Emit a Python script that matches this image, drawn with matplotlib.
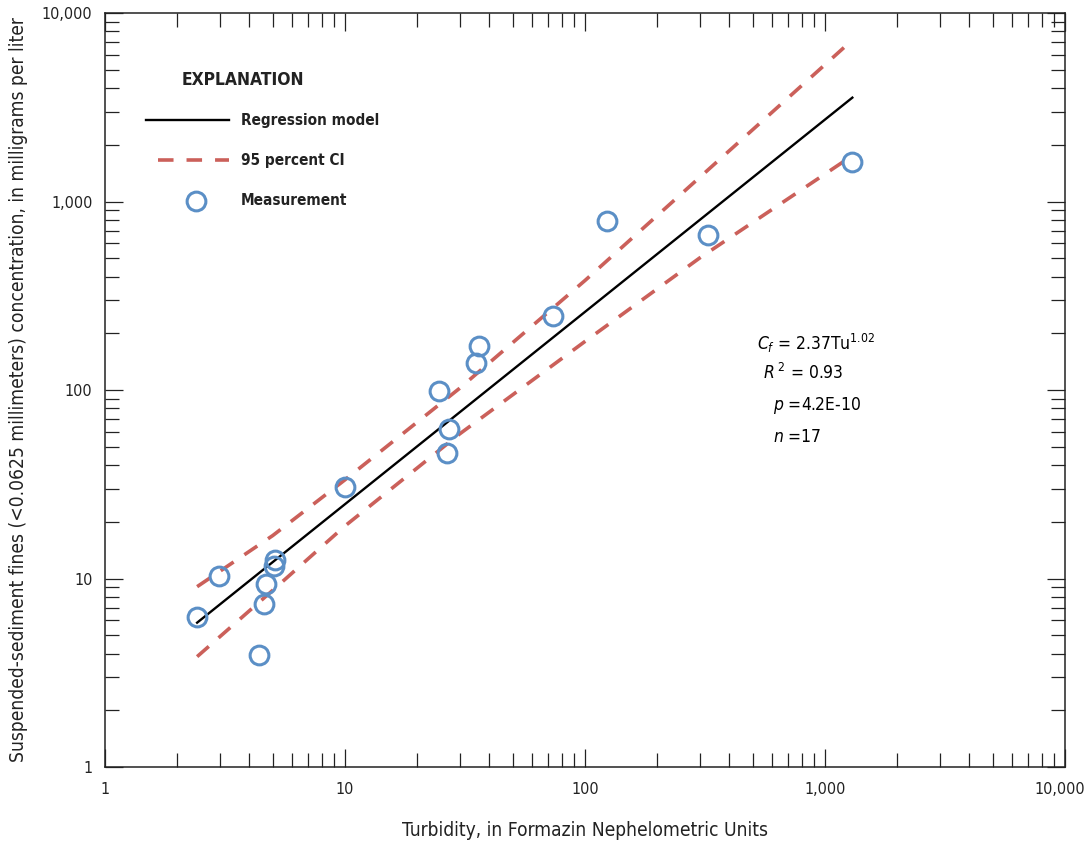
import matplotlib
matplotlib.use("Agg")
import matplotlib.pyplot as plt
import matplotlib.transforms as mtransforms
from matplotlib.lines import Line2D
from matplotlib.ticker import FixedLocator, FixedFormatter, LogLocator, NullFormatter

plt.rcParams["font.family"] = ["DejaVu Sans"]
plt.rcParams["font.stretch"] = "condensed"

turbidity = [2.42, 2.99, 4.38, 4.6, 4.69, 5.06, 5.1, 10.0, 24.6, 27.1, 26.6,
             35.1, 36.2, 73.5, 123, 325, 1296]
fines = [6.25, 10.3, 3.93, 7.3, 9.35, 11.6, 12.5, 30.6, 98.8, 62.0, 46.3,
         139, 171, 247, 789, 664, 1620]

# regression line end points
reg_x = [2.42, 1300]
reg_y = [5.83, 3556]

# 95 percent confidence interval
ci_x = [2.42, 5, 10, 30, 100, 300, 1300]
ci_upper = [9.05, 16.9, 33.4, 102, 381, 1340, 7190]
ci_lower = [3.85, 8.66, 19.0, 58.4, 181, 501, 1750]

tick_vals = [1, 10, 100, 1000, 10000]
tick_labels = ["1", "10", "100", "1,000", "10,000"]

RED = "#cb605a"
BLUE = "#5b8fc6"
INK = "#222222"
dash = (0, (4.3, 3.6))

fig = plt.figure(figsize=(10.86, 8.47), dpi=100)
ax = fig.add_axes([105 / 1086, 1 - 767 / 847, 960 / 1086, 754 / 847])

ax.plot(ci_x, ci_upper, color=RED, lw=2.6, linestyle=dash, dash_capstyle="butt")
ax.plot(ci_x, ci_lower, color=RED, lw=2.6, linestyle=dash, dash_capstyle="butt")
ax.plot(reg_x, reg_y, color="black", lw=1.7)
ax.plot(turbidity, fines, linestyle="none", marker="o", ms=13.5, mfc="none",
        mec=BLUE, mew=2.2)

ax.set_xscale("log")
ax.set_yscale("log")
ax.set_xlim(1, 10000)
ax.set_ylim(1, 10000)

for axis in (ax.xaxis, ax.yaxis):
    axis.set_major_locator(FixedLocator(tick_vals))
    axis.set_major_formatter(FixedFormatter(tick_labels))
    axis.set_minor_locator(LogLocator(base=10, subs=range(2, 10)))
    axis.set_minor_formatter(NullFormatter())

ax.tick_params(which="both", direction="in", top=True, right=True, colors=INK,
               labelsize=11.5, width=0.9)
ax.tick_params(which="major", length=13)
ax.tick_params(which="minor", length=10)
ax.tick_params(axis="x", pad=11)
ax.tick_params(axis="y", pad=9)
for s in ax.spines.values():
    s.set_linewidth(1.1)
    s.set_color(INK)

# keep the last x label inside the figure, as in the original
last = ax.get_xticklabels()[-1]
last.set_transform(last.get_transform() +
                   mtransforms.ScaledTranslation(-5 / 100, 0, fig.dpi_scale_trans))

ax.set_xlabel("Turbidity, in Formazin Nephelometric Units", fontsize=13.8, labelpad=17,
              color=INK)
ax.set_ylabel("Suspended-sediment fines (<0.0625 millimeters) concentration, in milligrams per liter",
              fontsize=13.8, labelpad=10, color=INK)

# explanation
tr = ax.transAxes
ax.text(0.0802, 0.911, "EXPLANATION", transform=tr, fontsize=12.5, fontweight="bold",
        va="center", color=INK)
ax.add_line(Line2D([0.0427, 0.129], [0.858, 0.858], transform=tr, color="black", lw=1.7))
ax.add_line(Line2D([0.0552, 0.129], [0.805, 0.805], transform=tr, color=RED, lw=2.6,
                   linestyle=dash, dash_capstyle="butt"))
ax.add_line(Line2D([0.0948], [0.751], transform=tr, linestyle="none", marker="o", ms=13.5,
                   mfc="none", mec=BLUE, mew=2.2))
for yy, lab in [(0.858, "Regression model"), (0.805, "95 percent CI"), (0.751, "Measurement")]:
    ax.text(0.1417, yy, lab, transform=tr, fontsize=11, fontweight="bold", va="center",
            color=INK)

# regression statistics
ax.text(0.679, 0.562, r"$\it{C_f}$ = 2.37Tu$^{1.02}$", transform=tr, fontsize=12.5, va="center")
ax.text(0.685, 0.5225, r"$\it{R}$$^{\ 2}$ = 0.93", transform=tr, fontsize=12.5, va="center")
ax.text(0.696, 0.479, r"$\it{p}$ =4.2E-10", transform=tr, fontsize=12.5, va="center")
ax.text(0.696, 0.4377, r"$\it{n}$ =17", transform=tr, fontsize=12.5, va="center")

fig.savefig("out.png", dpi=100)
